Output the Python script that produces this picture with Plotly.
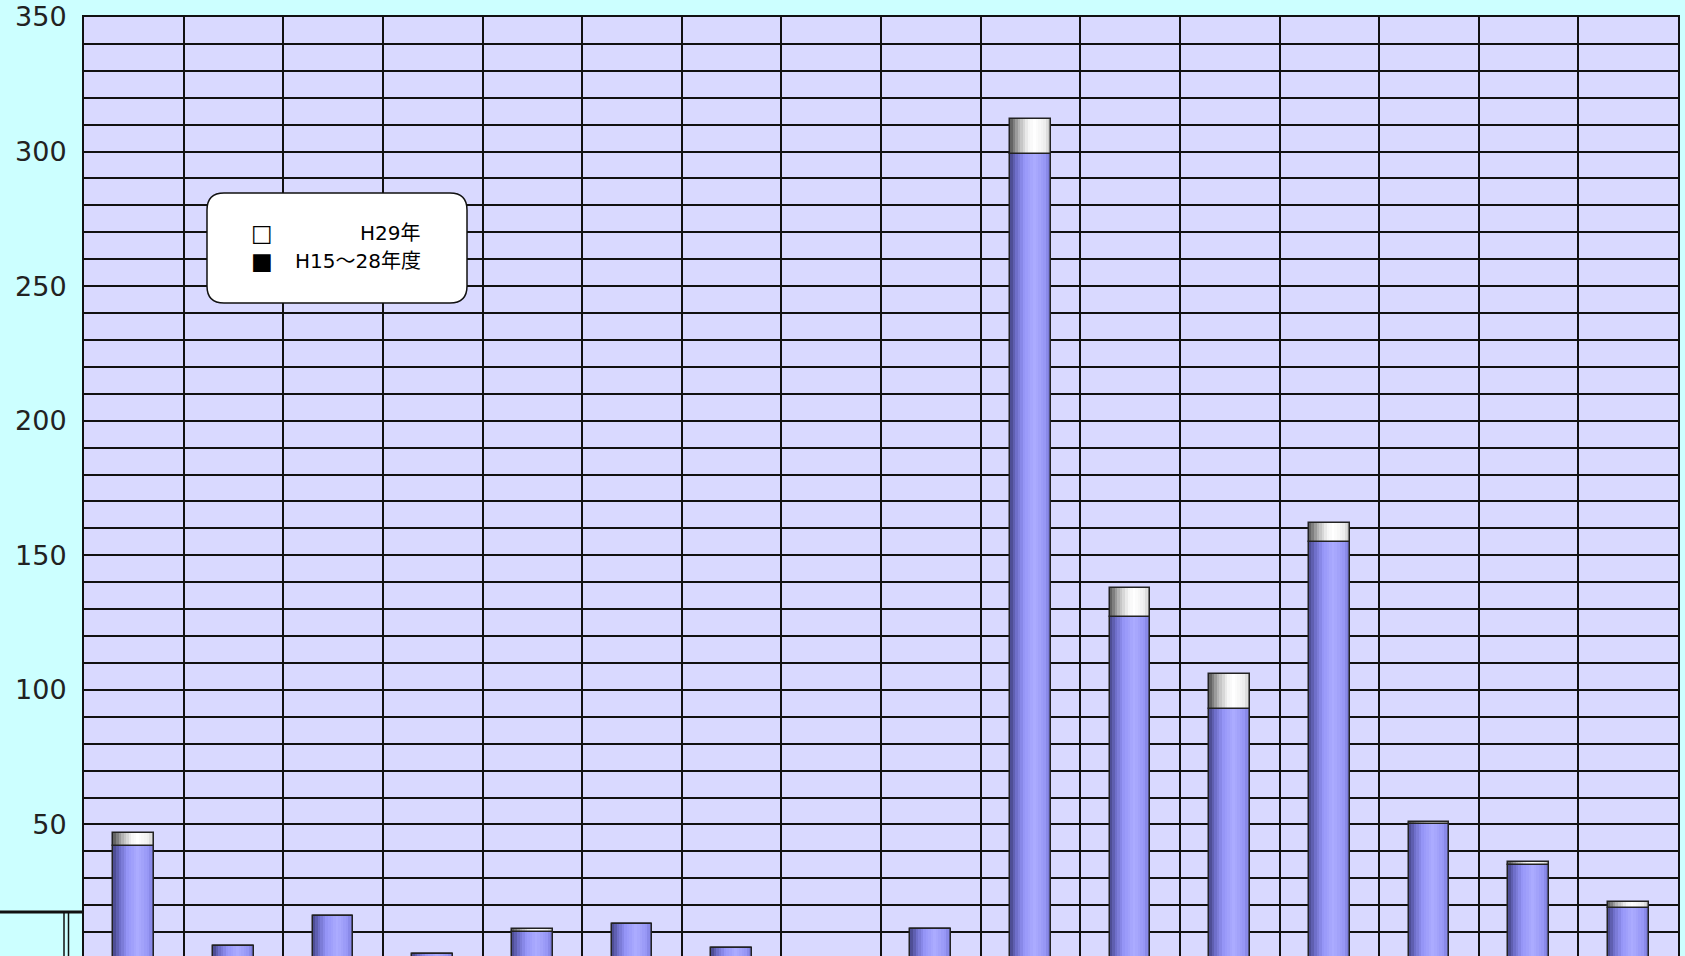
import plotly.graph_objects as go

# ---- data ----
categories = [1, 2, 3, 4, 5, 6, 7, 8, 9, 10, 11, 12, 13, 14, 15, 16]
h15_28 = [42, 5, 16, 2, 10, 13, 4, 0, 11, 299, 127, 93, 155, 50, 35, 19]
h29 = [5, 0, 0, 0, 1, 0, 0, 0, 0, 13, 11, 13, 7, 1, 1, 2]
y_tick_vals = [0, 50, 100, 150, 200, 250, 300, 350]
legend_labels = ["H29年", "H15～28年度"]
legend_symbols = ["□", "■"]

# ---- layout geometry (pixels) ----
W, H = 1685, 956
ML, MR, MT, MB = 84, 7, 17, 0
PW, PH = W - ML - MR, H - MT - MB
Y_TOP, Y_BOTTOM = 350, 1.115


def px_x(px):
    return (px - ML) / PW


def px_y(py):
    return 1 - (py - MT) / PH


def interp(stops, t):
    for (t0, c0), (t1, c1) in zip(stops, stops[1:]):
        if t0 <= t <= t1:
            f = (t - t0) / (t1 - t0) if t1 > t0 else 0
            c = [round(a + (b - a) * f) for a, b in zip(c0, c1)]
            return "rgb(%d,%d,%d)" % tuple(c)
    return "rgb(%d,%d,%d)" % stops[-1][1]


blue_stops = [(0, (70, 70, 135)), (0.15, (110, 110, 200)), (0.35, (150, 150, 248)),
              (0.6, (172, 172, 255)), (0.85, (150, 150, 245)), (1, (118, 118, 212))]
white_stops = [(0, (85, 85, 85)), (0.2, (175, 175, 175)), (0.45, (245, 245, 245)),
               (0.6, (255, 255, 255)), (0.85, (238, 238, 238)), (1, (195, 195, 195))]

BAR_W = 0.41
N_STRIPS = 16

fig = go.Figure()

for series, base, stops in [(h15_28, [0] * len(h15_28), blue_stops),
                            (h29, h15_28, white_stops)]:
    sw = BAR_W / N_STRIPS
    for i in range(N_STRIPS):
        t = (i + 0.5) / N_STRIPS
        w = sw * 1.25 if i < N_STRIPS - 1 else sw
        fig.add_trace(go.Bar(
            x=categories, y=series, base=base,
            width=w, offset=-BAR_W / 2 + i * sw,
            marker=dict(color=interp(stops, t), line=dict(width=0)),
            hoverinfo="skip", showlegend=False,
        ))
    fig.add_trace(go.Bar(
        x=categories, y=series, base=base,
        width=BAR_W, offset=-BAR_W / 2,
        marker=dict(color="rgba(0,0,0,0)", line=dict(color="#222222", width=1.5)),
        hoverinfo="skip", showlegend=False,
    ))

# ---- legend box (rounded rectangle) ----
x0, x1, y0, y1, r = 207, 467, 193, 303, 17
pts = [
    ("M", x0 + r, y0), ("L", x1 - r, y0), ("Q", x1, y0, x1, y0 + r),
    ("L", x1, y1 - r), ("Q", x1, y1, x1 - r, y1), ("L", x0 + r, y1),
    ("Q", x0, y1, x0, y1 - r), ("L", x0, y0 + r), ("Q", x0, y0, x0 + r, y0),
]
path = ""
for p in pts:
    cmd, coords = p[0], p[1:]
    s = []
    for j in range(0, len(coords), 2):
        s.append("%.5f,%.5f" % (px_x(coords[j]), px_y(coords[j + 1])))
    path += cmd + " " + " ".join(s) + " "
path += "Z"

shapes = [
    dict(type="path", xref="paper", yref="paper", path=path,
         fillcolor="white", line=dict(color="#111111", width=1.5), layer="above"),
    # stray spreadsheet border lines at lower left
    dict(type="line", xref="paper", yref="paper", x0=px_x(0), x1=px_x(84),
         y0=px_y(912), y1=px_y(912), line=dict(color="#111111", width=3)),
    dict(type="line", xref="paper", yref="paper", x0=px_x(64), x1=px_x(64),
         y0=px_y(912), y1=px_y(970), line=dict(color="#111111", width=1.5)),
    dict(type="line", xref="paper", yref="paper", x0=px_x(68.5), x1=px_x(68.5),
         y0=px_y(912), y1=px_y(970), line=dict(color="#111111", width=1.5)),
]

LEG_FONT = dict(family="DejaVu Sans, Noto Sans CJK JP", size=20, color="black")
SYM_FONT = dict(family="DejaVu Sans", size=23, color="black")
TICK_FONT = dict(family="DejaVu Sans", size=27, color="#222222")
annotations = []
for i, (sym, lab) in enumerate(zip(legend_symbols, legend_labels)):
    yy = 233 + 28 * i
    annotations.append(dict(xref="paper", yref="paper", x=px_x(262), y=px_y(yy), text=sym,
                            showarrow=False, xanchor="center", yanchor="middle",
                            font=SYM_FONT, borderpad=0))
    annotations.append(dict(xref="paper", yref="paper", x=px_x(422), y=px_y(yy), text=lab,
                            showarrow=False, xanchor="right", yanchor="middle",
                            font=LEG_FONT, borderpad=0))
# zero tick label (partly below the visible area)
annotations.append(dict(xref="paper", yref="y", x=0, y=y_tick_vals[0], xshift=-17,
                        text=str(y_tick_vals[0]), showarrow=False, xanchor="right",
                        yanchor="middle", font=TICK_FONT))

fig.update_layout(
    width=W, height=H,
    margin=dict(l=ML, r=MR, t=MT, b=MB, pad=0),
    paper_bgcolor="#CCFFFF",
    plot_bgcolor="#D9D9FF",
    barmode="overlay",
    bargap=0,
    showlegend=False,
    shapes=shapes,
    annotations=annotations,
    xaxis=dict(
        range=[0.5, 16.5], tickmode="linear", tick0=0.5, dtick=1,
        showticklabels=False, ticks="",
        showgrid=True, gridcolor="#111111", gridwidth=2,
        showline=True, linecolor="#111111", linewidth=2, mirror=True,
        zeroline=False,
    ),
    yaxis=dict(
        range=[Y_BOTTOM, Y_TOP], tickmode="array", tickvals=y_tick_vals,
        ticktext=[str(v) for v in y_tick_vals],
        ticks="inside", ticklen=7, tickcolor="#111111",
        tickfont=TICK_FONT,
        ticklabelstandoff=10,
        showgrid=True, gridcolor="#111111", gridwidth=2,
        minor=dict(dtick=10, tick0=0, showgrid=True, gridcolor="#111111", gridwidth=2),
        showline=True, linecolor="#111111", linewidth=2, mirror=True,
        zeroline=False,
    ),
)

fig.write_html(
    "out.html",
    config={"displayModeBar": False},
    post_script="document.body.style.margin='0';document.body.style.overflow='hidden';",
)
